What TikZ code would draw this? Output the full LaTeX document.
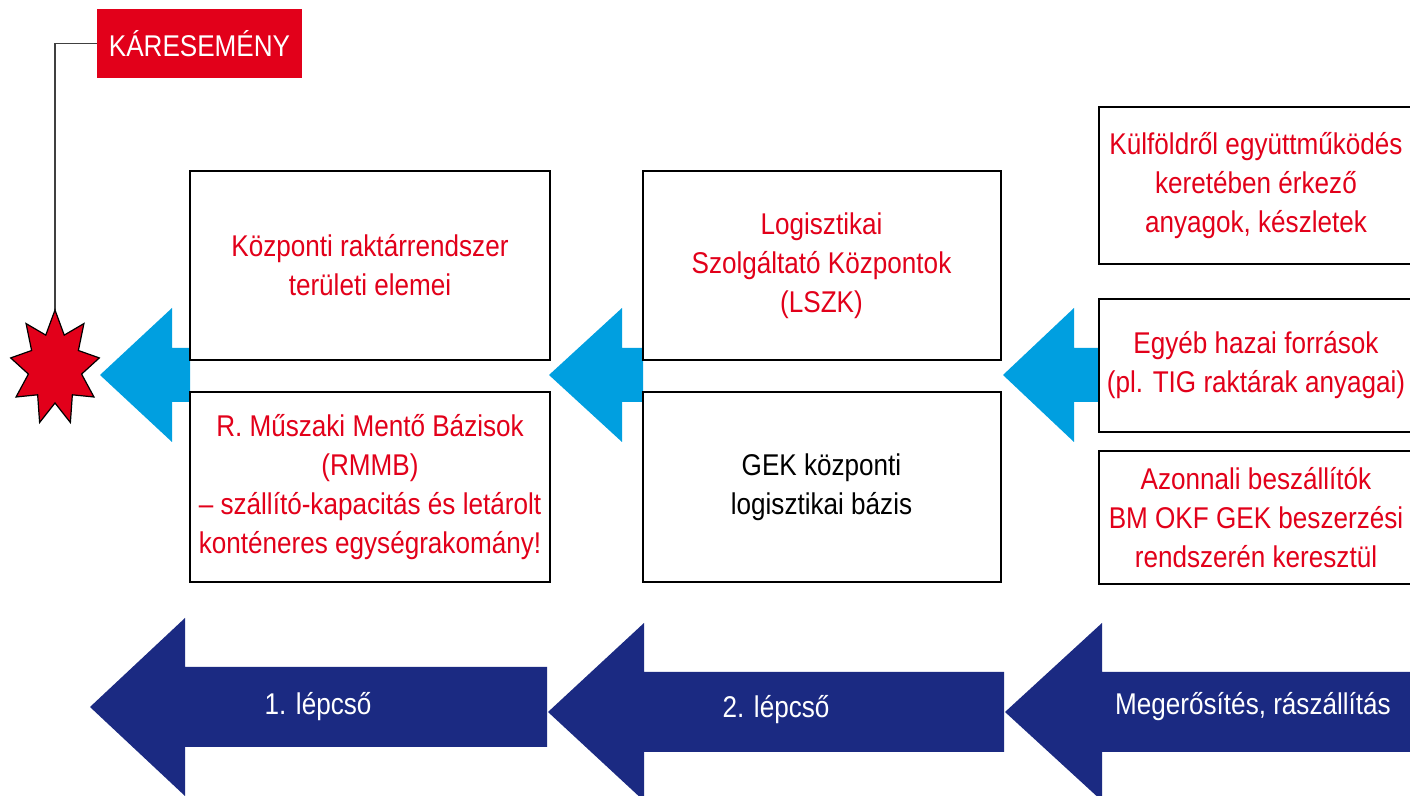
\documentclass[tikz,border=0pt]{standalone}
\usepackage{fontspec}
\setmainfont{Liberation Sans}[FakeStretch=0.87]
\usepackage{tikz}
\definecolor{karred}{RGB}{226,0,26}
\definecolor{lightblue}{RGB}{0,159,224}
\definecolor{darkblue}{RGB}{27,42,130}

\begin{document}
\begin{tikzpicture}[x=0.5pt,y=-0.5pt,
	box/.style={draw=black, line width=1pt, fill=white, text=karred, align=center, inner sep=0pt, outer sep=0pt, font=\fontsize{15}{19.5}\selectfont},
	arrowlabel/.style={text=white, font=\fontsize{15}{19.5}\selectfont},
	connector/.style={draw=black!75, line width=0.65pt}]

	\useasboundingbox (0,0) rectangle (1410,796);
	\clip (0,0) rectangle (1410,796);

	% Light blue arrows
	\foreach \tip/\back/\tail in {100/172/190, 549/622/643, 1003/1074/1100}
		\fill[lightblue] (\tail,348) -- (\back,348) -- (\back,308) -- (\tip,375) -- (\back,442) -- (\back,402) -- (\tail,402) -- cycle;

	% Dark blue arrows
	\foreach \tip/\back/\tail/\mid in {90/185/547/707, 548/644/1004/712, 1005/1102/1420/712}
		\fill[darkblue] (\tail,\mid-40) -- (\back,\mid-40) -- (\back,\mid-89) -- (\tip,\mid) -- (\back,\mid+89) -- (\back,\mid+40) -- (\tail,\mid+40) -- cycle;

	\node[arrowlabel] (lepcso1) at (318,707) {1. lépcső};
	\node[arrowlabel] (lepcso2) at (776,710) {2. lépcső};
	\node[arrowlabel] (megerosites) at (1253,707) {Megerősítés, rászállítás};

	% Boxes
	\node[box, minimum width=180pt, minimum height=94.5pt] (raktar) at (370,265.5) {Központi raktárrendszer\\területi elemei};
	\node[box, minimum width=180pt, minimum height=95pt] (rmmb) at (370,487) {R. Műszaki Mentő Bázisok\\(RMMB)\\– szállító-kapacitás és letárolt\\konténeres egységrakomány!};
	\node[box, minimum width=179pt, minimum height=94.5pt] (lszk) at (821.5,265.5) {Logisztikai\\Szolgáltató Központok\\(LSZK)};
	\node[box, minimum width=179pt, minimum height=95pt, text=black] (gek) at (821.5,487) {GEK központi\\logisztikai bázis};
	\node[box, minimum width=157pt, minimum height=78.5pt] (kulfold) at (1256,185.5) {Külföldről együttműködés\\keretében érkező\\anyagok, készletek};
	\node[box, minimum width=157pt, minimum height=66.5pt] (hazai) at (1256,365.5) {Egyéb hazai források\\(pl. TIG raktárak anyagai)};
	\node[box, minimum width=157pt, minimum height=66.5pt] (azonnali) at (1256,517.5) {Azonnali beszállítók\\BM OKF GEK beszerzési\\rendszerén keresztül};

	% Event
	\node[fill=karred, text=white, minimum width=102.5pt, minimum height=34.5pt, inner sep=0pt, font=\fontsize{15}{19.5}\selectfont] (kar) at (199.5,43.5) {KÁRESEMÉNY};
	\coordinate (startop) at (55,310);
	\draw[connector] (kar.west) -| (startop);
	\draw[fill=karred, draw=black, line width=0.6pt, line join=miter] (startop)
		\foreach \a in {90,50,10,-30,-70,-110,-150,-190,-230} { -- ({55+45*cos(\a)},{368-58*sin(\a)}) -- ({55+27*cos(\a-20)},{368-35*sin(\a-20)}) } -- cycle;

\end{tikzpicture}
\end{document}
